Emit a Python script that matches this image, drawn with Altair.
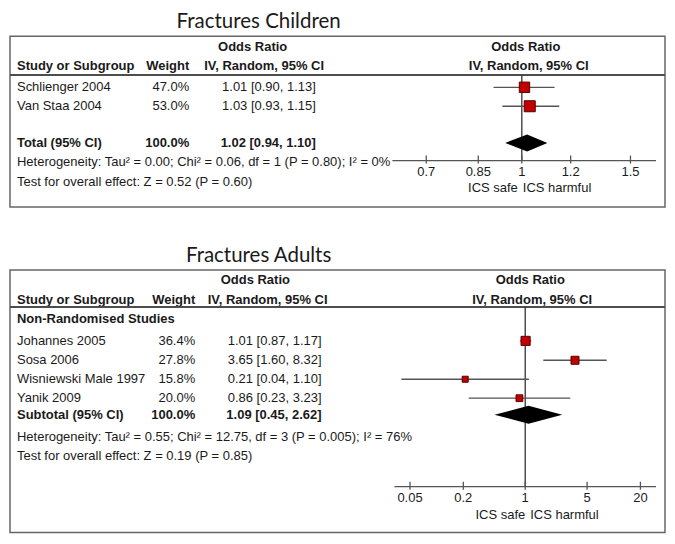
import altair as alt
import pandas as pd

FONT = "Liberation Sans"
TITLE_FONT = "Lato"
TXT = "#1a1a1a"
GREY = "#555555"

# ---------------- data: children ----------------
ch_title = "Fractures Children"
ch_study = ["Schlienger 2004", "Van Staa 2004"]
ch_weight = [47.0, 53.0]
ch_or = [1.01, 1.03]
ch_lo = [0.90, 0.93]
ch_hi = [1.13, 1.15]
ch_total_label = "Total (95% CI)"
ch_total = [1.02, 0.94, 1.10]
ch_het = "Heterogeneity: Tau² = 0.00; Chi² = 0.06, df = 1 (P = 0.80); I² = 0%"
ch_test = "Test for overall effect: Z = 0.52 (P = 0.60)"
ch_ticks = [0.7, 0.85, 1, 1.2, 1.5]
ch_ticklabels = ["0.7", "0.85", "1", "1.2", "1.5"]

# ---------------- data: adults ----------------
ad_title = "Fractures Adults"
ad_group = "Non-Randomised Studies"
ad_study = ["Johannes 2005", "Sosa 2006", "Wisniewski Male 1997", "Yanik 2009"]
ad_weight = [36.4, 27.8, 15.8, 20.0]
ad_or = [1.01, 3.65, 0.21, 0.86]
ad_lo = [0.87, 1.60, 0.04, 0.23]
ad_hi = [1.17, 8.32, 1.10, 3.23]
ad_total_label = "Subtotal (95% CI)"
ad_total = [1.09, 0.45, 2.62]
ad_het = "Heterogeneity: Tau² = 0.55; Chi² = 12.75, df = 3 (P = 0.005); I² = 76%"
ad_test = "Test for overall effect: Z = 0.19 (P = 0.85)"
ad_ticks = [0.05, 0.2, 1, 5, 20]
ad_ticklabels = ["0.05", "0.2", "1", "5", "20"]

W = 656


def panel(title, study, weight, orv, lo, hi, total_label, total, het, test,
          ticks, ticklabels, L, group=None):
    H = L["H"]
    ys = alt.Scale(domain=[0, H], range=[0, H], zero=False, nice=False)
    xs = alt.Scale(type="log", domain=L["xdom"], range=L["xrange"], nice=False)
    Y = lambda f: alt.Y(f, type="quantitative", scale=ys, axis=None)
    X = lambda f: alt.X(f, type="quantitative", scale=xs, axis=None)

    def txt(labels, yv, x, align="left", bold=False):
        df = pd.DataFrame({"label": labels, "y": yv})
        return alt.Chart(df).mark_text(
            align=align, baseline="middle", font=FONT, fontSize=13,
            fontWeight="bold" if bold else "normal", color=TXT
        ).encode(x=alt.value(x), y=Y("y"), text="label:N")

    layers = []
    # headers
    layers.append(txt(["Odds Ratio"], [L["yh1"]], L["hdr_or"], "center", True))
    layers.append(txt(["Study or Subgroup"], [L["yh2"]], L["col_study"], "left", True))
    layers.append(txt(["Weight"], [L["yh2"]], L["col_w"], "right", True))
    layers.append(txt(["IV, Random, 95% CI"], [L["yh2"]], L["hdr_ci"], "center", True))
    layers.append(txt(["Odds Ratio"], [L["yh1"]], L["f_or"], "center", True))
    layers.append(txt(["IV, Random, 95% CI"], [L["yh2"]], L["f_ci"], "center", True))
    # separator
    sep = pd.DataFrame({"y": [L["ysep"]]})
    layers.append(alt.Chart(sep).mark_rule(color="#4d4d4d", strokeWidth=2).encode(
        x=alt.value(0), x2=alt.value(W), y=Y("y")))
    if group:
        layers.append(txt([group], [L["ygroup"]], L["col_study"], "left", True))
    # study rows
    rows = L["yrows"]
    layers.append(txt(study, rows, L["col_study"], "left"))
    layers.append(txt([f"{w:.1f}%" for w in weight], rows, L["col_w"], "right"))
    layers.append(txt([f"{o:.2f} [{a:.2f}, {b:.2f}]" for o, a, b in zip(orv, lo, hi)],
                      rows, L["col_or"], "right"))
    # total row
    layers.append(txt([total_label], [L["ytot"]], L["col_study"], "left", True))
    layers.append(txt([f"{sum(weight):.1f}%"], [L["ytot"]], L["col_w"], "right", True))
    layers.append(txt([f"{total[0]:.2f} [{total[1]:.2f}, {total[2]:.2f}]"], [L["ytot"]],
                      L["col_or"], "right", True))
    layers.append(txt([het], [L["yhet"]], L["col_study"], "left"))
    layers.append(txt([test], [L["ytest"]], L["col_study"], "left"))

    # forest: vertical line at 1
    vl = pd.DataFrame({"x": [1.0], "y": [L["ysep"]], "y2": [L["yaxis"]]})
    layers.append(alt.Chart(vl).mark_rule(color="#333333", strokeWidth=1.3).encode(
        x=X("x"), y=Y("y"), y2="y2"))
    # axis line
    ax = pd.DataFrame({"x": [L["xdom"][0]], "x2": [L["xdom"][1]], "y": [L["yaxis"]]})
    layers.append(alt.Chart(ax).mark_rule(color=GREY, strokeWidth=1.3).encode(
        x=X("x"), x2="x2", y=Y("y")))
    tk = pd.DataFrame({"t": ticks, "lab": ticklabels,
                       "y": [L["yaxis"] - 5] * len(ticks),
                       "y2": [L["yaxis"] + 3] * len(ticks),
                       "yl": [L["ytick"]] * len(ticks)})
    layers.append(alt.Chart(tk).mark_rule(color=GREY, strokeWidth=1.3).encode(
        x=X("t"), y=Y("y"), y2="y2"))
    layers.append(alt.Chart(tk).mark_text(font=FONT, fontSize=13, color=TXT,
                                          baseline="middle").encode(
        x=X("t"), y=Y("yl"), text="lab:N"))
    ics = pd.DataFrame({"x": [1.0], "y": [L["yics"]]})
    layers.append(alt.Chart(ics).mark_text(font=FONT, fontSize=13, color=TXT, align="right",
                                           baseline="middle", dx=L["dx_safe"],
                                           text="ICS safe").encode(x=X("x"), y=Y("y")))
    layers.append(alt.Chart(ics).mark_text(font=FONT, fontSize=13, color=TXT, align="left",
                                           baseline="middle", dx=L["dx_harm"],
                                           text="ICS harmful").encode(x=X("x"), y=Y("y")))
    # CIs and squares
    st = pd.DataFrame({"or": orv, "lo": lo, "hi": hi, "w": weight, "y": rows})
    layers.append(alt.Chart(st).mark_rule(color=GREY, strokeWidth=1.3).encode(
        x=X("lo"), x2="hi", y=Y("y")))
    layers.append(alt.Chart(st).mark_square(filled=True, color="#c00000", stroke="#5a0000",
                                            strokeWidth=1, opacity=1).encode(
        x=X("or"), y=Y("y"),
        size=alt.Size("w:Q", scale=alt.Scale(domain=[0, 100], range=[0, L["sz"]]),
                      legend=None)))
    # diamond
    yc, h = L["ytot"], L["dh"]
    dm = pd.DataFrame({"x": [total[1], total[0], total[2]],
                       "yt": [yc, yc - h, yc], "yb": [yc, yc + h, yc]})
    layers.append(alt.Chart(dm).mark_area(color="black", orient="vertical").encode(
        x=X("x"), y=Y("yt"), y2="yb"))

    return alt.layer(*layers).properties(
        width=W, height=H,
        title=alt.TitleParams(title, dx=-79))


L_ch = dict(H=171, xdom=[0.617, 1.65], xrange=[383, 647],
            yh1=10.4, yh2=29.4, ysep=38.7, yrows=[51, 70], ytot=106.7, yhet=126,
            ytest=145.4, yaxis=124.4, ytick=136, yics=152,
            col_study=7, col_w=179.5, col_or=306.3, hdr_or=243, hdr_ci=254.5,
            f_or=516.5, f_ci=519.5, sz=230, dh=8.5, dx_safe=-4, dx_harm=1)
L_ad = dict(H=263, xdom=[1 / 30, 30], xrange=[385, 647],
            yh1=10.4, yh2=29.7, ysep=37, ygroup=49.4,
            yrows=[71, 90.4, 109.4, 128.4], ytot=145, yhet=167.7, ytest=186.7,
            yaxis=217, ytick=228, yics=245.5,
            col_study=7, col_w=185.5, col_or=312, hdr_or=245.7, hdr_ci=258,
            f_or=521, f_ci=523, sz=170, dh=9, dx_safe=0, dx_harm=5)

top = panel(ch_title, ch_study, ch_weight, ch_or, ch_lo, ch_hi, ch_total_label, ch_total,
            ch_het, ch_test, ch_ticks, ch_ticklabels, L_ch)
bot = panel(ad_title, ad_study, ad_weight, ad_or, ad_lo, ad_hi, ad_total_label, ad_total,
            ad_het, ad_test, ad_ticks, ad_ticklabels, L_ad, group=ad_group)

chart = alt.vconcat(top, bot, spacing=36).properties(
    padding={"left": 0, "top": 2, "right": 0, "bottom": 0}
).configure_view(stroke="#666666", strokeWidth=1.5).configure_title(
    font=TITLE_FONT, fontSize=20.5, fontWeight="normal", color="#1a1a1a",
    anchor="middle", offset=4)

chart.save("out.html", embed_options={"renderer": "svg", "actions": False})
